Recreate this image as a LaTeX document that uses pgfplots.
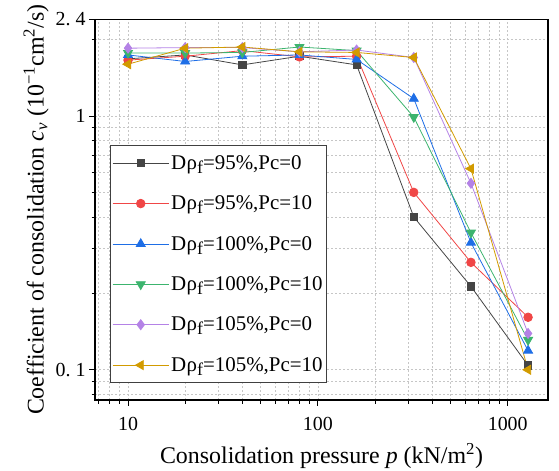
\documentclass[border=0pt]{standalone}
\usepackage{fontspec}
\setmainfont{Liberation Serif}
\usepackage{pgfplots}
\pgfplotsset{compat=1.18}

\definecolor{cA}{HTML}{454545}
\definecolor{cB}{HTML}{F04646}
\definecolor{cC}{HTML}{1E6EE6}
\definecolor{cD}{HTML}{3CB46E}
\definecolor{cE}{HTML}{B482E6}
\definecolor{cF}{HTML}{D29B00}

\newcommand{\Drf}{D\kern0.02em ρ\raisebox{-0.4ex}{\fontsize{18}{18}\selectfont f}}

\begin{document}
\begin{tikzpicture}
\begin{axis}[
    scale only axis,
    width=453bp, height=380.5bp,
    xmode=log, ymode=log,
    xmin=6.7, xmax=1630,
    ymin=0.076, ymax=2.4,
    xtick={10,100,1000},
    xticklabels={10,100,1000},
    minor xtick={7,8,9,20,30,40,50,60,70,80,90,200,300,400,500,600,700,800,900},
    ytick={0.1,1,2.4},
    yticklabels={0.\hspace{0.25em}1,1,2.\hspace{0.25em}4},
    minor ytick={0.08,0.09,0.2,0.3,0.4,0.5,0.6,0.7,0.8,0.9,2},
    tick align=outside,
    xtick pos=bottom, ytick pos=left,
    major tick length=6bp, minor tick length=3.5bp,
    every tick/.style={black, line width=0.9pt},
    axis line style={black, line width=1.2pt},
    grid=both,
    major grid style={gray!45, dash pattern=on 2bp off 2bp, line width=0.6pt},
    minor grid style={gray!45, dash pattern=on 2bp off 2bp, line width=0.6pt},
    tick label style={font=\fontsize{20}{24}\selectfont},
    xticklabel style={yshift=-8bp},
    xlabel={Consolidation pressure \textit{p} (kN/m\textsuperscript{2})},
    ylabel={Coefficient of consolidation \textit{c}\textsubscript{\textit{v}} (10\textsuperscript{−1}cm\textsuperscript{2}/s)},
    label style={font=\fontsize{24}{28}\selectfont},
    xlabel style={yshift=-6bp},
    ylabel style={yshift=0bp},
    legend style={at={(0.033,0.67)}, anchor=north west,
        draw=black!75, line width=0.8pt, fill=white,
        font=\fontsize{21}{25}\selectfont,
        row sep=21bp, inner xsep=2bp, inner ysep=8bp},
    legend cell align=left,
    legend image code/.code={\draw[mark repeat=2,mark phase=2] plot coordinates {(0bp,0bp) (28bp,0bp) (56bp,0bp)};},
    every axis plot/.append style={line width=0.8pt},
]
\addplot[cA, mark=square*, mark size=3.6bp, mark options={fill=cA, draw=cA}] coordinates {
    (10,1.68) (20,1.74) (40,1.59) (80,1.72) (160,1.59) (320,0.40) (640,0.213) (1280,0.104)};
\addlegendentry{\Drf=95\%,Pc=0}
\addplot[cB, mark=*, mark size=4.3bp, mark options={fill=cB, draw=cB}] coordinates {
    (10,1.66) (20,1.72) (40,1.81) (80,1.71) (160,1.72) (320,0.50) (640,0.265) (1280,0.161)};
\addlegendentry{\Drf=95\%,Pc=10}
\addplot[cC, mark=triangle*, mark size=5.2bp, mark options={fill=cC, draw=cC}] coordinates {
    (10,1.74) (20,1.64) (40,1.72) (80,1.74) (160,1.67) (320,1.17) (640,0.317) (1280,0.119)};
\addlegendentry{\Drf=100\%,Pc=0}
\addplot[cD, mark=triangle*, mark size=5.2bp, mark options={fill=cD, draw=cD, rotate=180}] coordinates {
    (10,1.77) (20,1.77) (40,1.78) (80,1.87) (160,1.81) (320,0.99) (640,0.347) (1280,0.131)};
\addlegendentry{\Drf=100\%,Pc=10}
\addplot[cE, mark=diamond*, mark size=5bp, mark options={fill=cE, draw=cE}] coordinates {
    (10,1.85) (20,1.86) (40,1.86) (80,1.79) (160,1.82) (320,1.70) (640,0.543) (1280,0.139)};
\addlegendentry{\Drf=105\%,Pc=0}
\addplot[cF, mark=triangle*, mark size=5.2bp, mark options={fill=cF, draw=cF, rotate=90}] coordinates {
    (10,1.60) (20,1.85) (40,1.87) (80,1.79) (160,1.78) (320,1.70) (640,0.62) (1280,0.100)};
\addlegendentry{\Drf=105\%,Pc=10}
\end{axis}
\pgfresetboundingbox
\path[use as bounding box] (-95bp,-71bp) rectangle (464bp,400bp);
\end{tikzpicture}
\end{document}
